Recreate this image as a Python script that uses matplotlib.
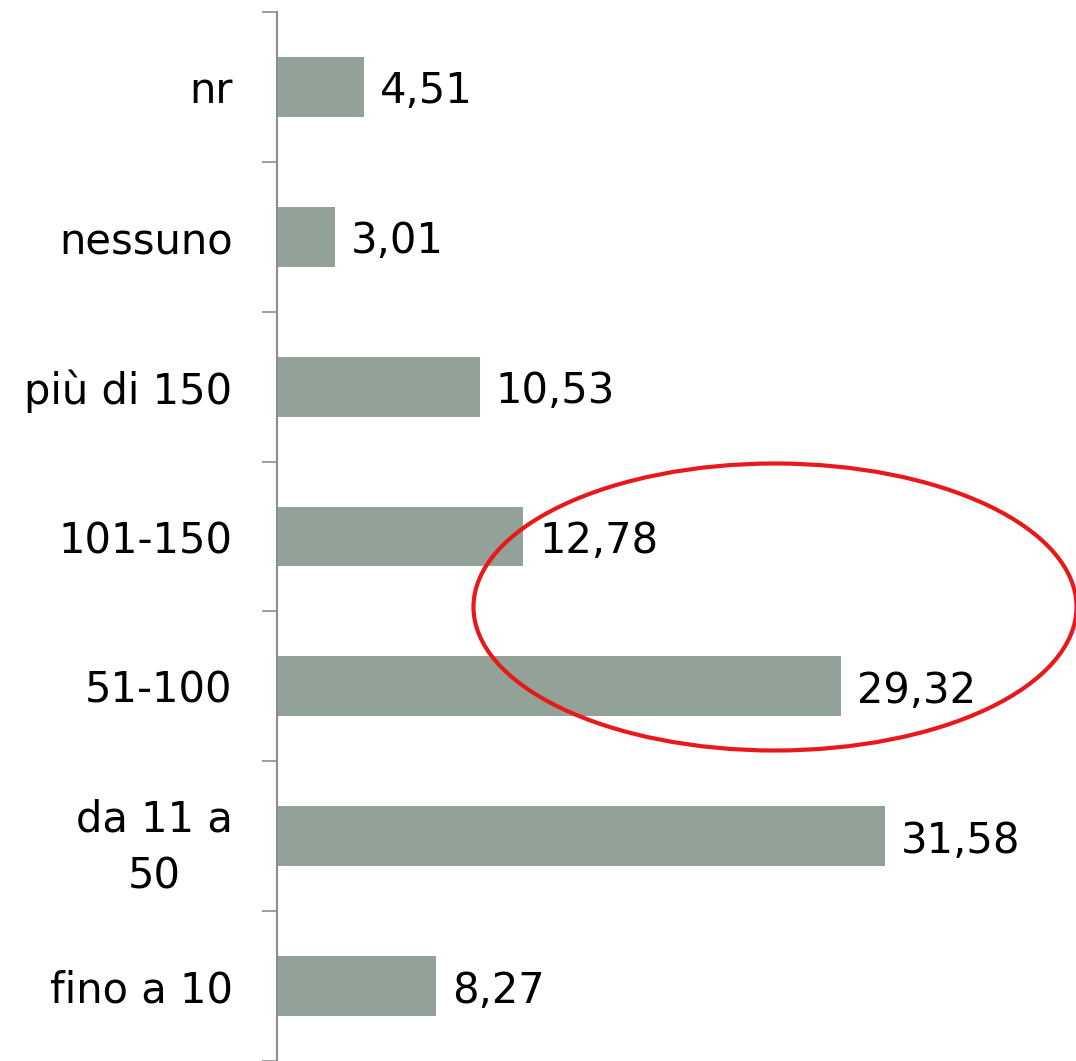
import matplotlib
matplotlib.use("Agg")
import matplotlib.pyplot as plt
from matplotlib.patches import Ellipse

categories = ["fino a 10", "da 11 a\n50", "51-100", "101-150", "più di 150", "nessuno", "nr"]
values = [8.27, 31.58, 29.32, 12.78, 10.53, 3.01, 4.51]

bar_color = "#93A299"
axis_color = "#8C8C8C"

plt.rcParams['font.family'] = ['DejaVu Sans']

W, H = 1076, 1061
fig = plt.figure(figsize=(W / 100, H / 100), dpi=100)
ax = fig.add_axes([277 / W, 0 / H, (W - 277) / W, (1061 - 12) / H])

y = list(range(len(categories)))
ax.barh(y, values, height=0.4, color=bar_color, zorder=2)
ax.set_xlim(0, (W - 277) / 19.25)
ax.set_ylim(-0.5, len(categories) - 0.5)

for yi, v in zip(y, values):
    ax.text(v + 16 / 19.25, yi, f"{v:.2f}".replace(".", ","), va="center_baseline", ha="left",
            fontsize=30, color="black")

# boundary ticks (major), labels at centres (minor)
ax.set_yticks([i - 0.5 for i in range(len(categories) + 1)])
ax.set_yticklabels([])
ax.tick_params(axis="y", which="major", length=11, width=1.2, color=axis_color, direction="out")
ax.set_yticks(y, minor=True)
ax.set_yticklabels(categories, minor=True, fontsize=30, multialignment="center", linespacing=1.45)
ax.tick_params(axis="y", which="minor", length=0, pad=32)

ax.set_xticks([])
for s in ["top", "right", "bottom"]:
    ax.spines[s].set_visible(False)
ax.spines["left"].set_color(axis_color)
ax.spines["left"].set_linewidth(1.5)

ell = Ellipse((775 / W, 1 - 607 / H), 603 / W, 287 / H, transform=fig.transFigure,
              fill=False, edgecolor="#E8191B", linewidth=3.0, zorder=5)
fig.patches.append(ell)

fig.savefig("out.png", dpi=100)
